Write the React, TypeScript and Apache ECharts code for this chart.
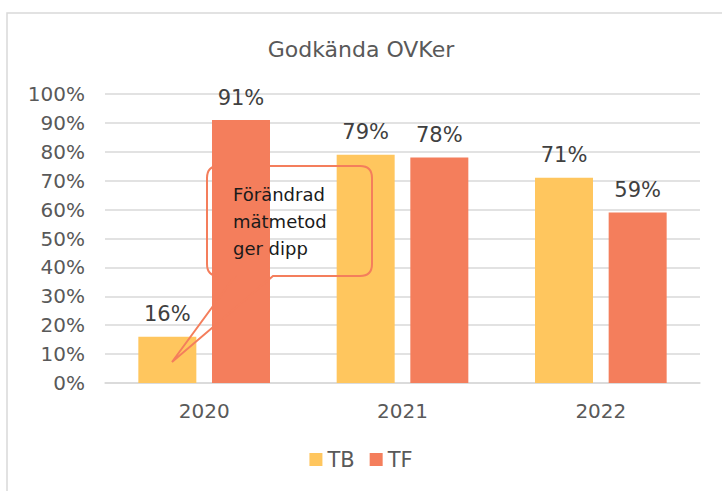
import React, { useEffect, useRef } from "react";
import * as echarts from "echarts";

const years = ["2020", "2021", "2022"];
const tbValues = [0.16, 0.79, 0.71];
const tfValues = [0.91, 0.78, 0.59];
const seriesNames = ["TB", "TF"];
const titleText = "Godkända OVKer";
const calloutLines = ["Förändrad", "mätmetod", "ger dipp"];

const TB_COLOR = "#FFC65E";
const TF_COLOR = "#F47E5C";
const FONT = "DejaVu Sans";

const calloutPath =
  "M 219 166 L 360 166 Q 372 166 372 178 L 372 264 Q 372 276 360 276 L 273 276 L 172 362 L 235 276 L 219 276 Q 207 276 207 264 L 207 178 Q 207 166 219 166 Z";

let registered = false;
function registerCallout() {
  if (registered) return;
  registered = true;
  echarts.graphic.registerShape("callout", echarts.graphic.extendPath(calloutPath, {}) as any);
}

export default function App() {
  const ref = useRef<HTMLDivElement>(null);

  useEffect(() => {
    if (!ref.current) return;
    registerCallout();
    const chart = echarts.init(ref.current, null, { renderer: "svg" });
    const pct = (v: number) => Math.round(v * 100) + "%";
    const dataLabel = {
      show: true,
      position: "top",
      distance: 12,
      formatter: (p: any) => pct(p.value),
      fontFamily: FONT,
      fontSize: 21,
      color: "#404040",
    };
    chart.setOption({
      animation: false,
      backgroundColor: "#ffffff",
      textStyle: { fontFamily: FONT },
      title: {
        text: titleText,
        left: "center",
        top: 33,
        textStyle: { fontFamily: FONT, fontSize: 22, fontWeight: "normal", color: "#595959" },
      },
      legend: {
        data: seriesNames,
        bottom: 16,
        left: "center",
        itemWidth: 13,
        itemHeight: 13,
        itemGap: 15,
        icon: "rect",
        textStyle: { fontFamily: FONT, fontSize: 21, color: "#595959" },
      },
      grid: { left: 105, right: 22, top: 94, bottom: 108, containLabel: false },
      xAxis: {
        type: "category",
        data: years,
        axisTick: { show: false },
        axisLine: { lineStyle: { color: "#D9D9D9", width: 1.5 } },
        axisLabel: { fontFamily: FONT, fontSize: 20, color: "#595959", margin: 18 },
      },
      yAxis: {
        type: "value",
        min: 0,
        max: 1,
        interval: 0.1,
        axisLine: { show: false },
        axisTick: { show: false },
        axisLabel: { fontFamily: FONT, fontSize: 20, color: "#595959", margin: 20, formatter: (v: number) => pct(v) },
        splitLine: { lineStyle: { color: "#D9D9D9", width: 1.5 } },
      },
      series: [
        {
          name: seriesNames[0],
          type: "bar",
          data: tbValues,
          barWidth: 58,
          barGap: "27%",
          itemStyle: { color: TB_COLOR },
          label: dataLabel,
        },
        {
          name: seriesNames[1],
          type: "bar",
          data: tfValues,
          barWidth: 58,
          itemStyle: { color: TF_COLOR },
          label: dataLabel,
        },
      ],
      graphic: [
        {
          type: "rect",
          silent: true,
          z: 0,
          shape: { x: 7, y: 13, width: 740, height: 500 },
          style: { fill: "none", stroke: "#D9D9D9", lineWidth: 1.5 },
        },
        {
          type: "callout",
          x: 0,
          y: 0,
          z: 10,
          silent: true,
          style: { fill: "none", stroke: TF_COLOR, lineWidth: 2 },
        },
        {
          type: "text",
          x: 233,
          y: 181,
          z: 11,
          style: {
            text: calloutLines.join("\n"),
            fontFamily: FONT,
            fontSize: 18,
            lineHeight: 27,
            fill: "#1a1a1a",
            textAlign: "left",
            textVerticalAlign: "top",
          },
        },
      ],
    });
    return () => chart.dispose();
  }, []);

  return <div ref={ref} style={{ position: "fixed", left: 0, top: 0, width: 722, height: 491 }} />;
}
